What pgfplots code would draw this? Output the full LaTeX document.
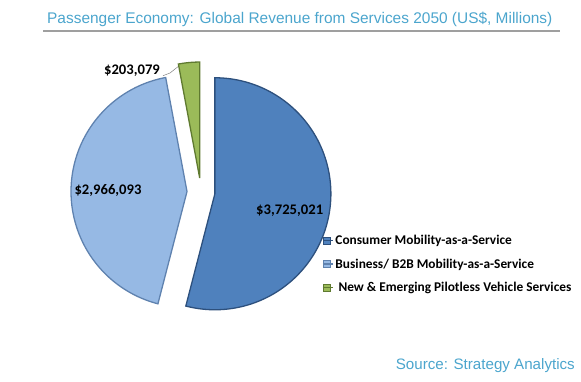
\documentclass[border=0pt]{standalone}
\usepackage{pgfplots}
\pgfplotsset{compat=1.18}
\usepackage{fontspec}
\setmainfont{Liberation Sans}
\newfontfamily\calibri{Carlito}
\definecolor{cblue}{RGB}{79,129,189}
\definecolor{cblueedge}{RGB}{45,80,125}
\definecolor{lblue}{RGB}{150,185,228}
\definecolor{lblueedge}{RGB}{95,130,175}
\definecolor{cgreen}{RGB}{155,187,89}
\definecolor{cgreenedge}{RGB}{95,122,48}
\definecolor{titlecol}{RGB}{75,165,205}
\begin{document}
\begin{tikzpicture}
% values in US$ millions, written in thousands (3,725,021 -> 3725.021)
\pgfmathsetmacro{\vA}{3725.021}
\pgfmathsetmacro{\vB}{2966.093}
\pgfmathsetmacro{\vC}{203.079}
\pgfmathsetmacro{\tot}{\vA+\vB+\vC}
\pgfmathsetmacro{\aA}{360*(\vA/\tot)}
\pgfmathsetmacro{\aB}{360*(\vB/\tot)}
\pgfmathsetmacro{\aC}{360*(\vC/\tot)}
% start/end angles (clockwise from 12 o'clock)
\pgfmathsetmacro{\sA}{90-\aA}\pgfmathsetmacro{\eA}{90}
\pgfmathsetmacro{\sB}{90-\aA-\aB}\pgfmathsetmacro{\eB}{90-\aA}
\pgfmathsetmacro{\sC}{90-\aA-\aB-\aC}\pgfmathsetmacro{\eC}{90-\aA-\aB}
\pgfmathsetmacro{\cx}{201}\pgfmathsetmacro{\cy}{190}
\pgfmathsetmacro{\R}{116}\pgfmathsetmacro{\ex}{14}
\pgfmathsetmacro{\xA}{\cx+\ex*cos((\sA+\eA)/2)}\pgfmathsetmacro{\yA}{\cy+\ex*sin((\sA+\eA)/2)}
\pgfmathsetmacro{\xB}{\cx+\ex*cos((\sB+\eB)/2)}\pgfmathsetmacro{\yB}{\cy+\ex*sin((\sB+\eB)/2)}
\pgfmathsetmacro{\xC}{\cx+\ex*cos((\sC+\eC)/2)}\pgfmathsetmacro{\yC}{\cy+\ex*sin((\sC+\eC)/2)}
\begin{axis}[
  scale only axis, width=581bp, height=382bp,
  xmin=0, xmax=581, ymin=0, ymax=382,
  hide axis, clip=false,
  legend style={draw=none, fill=none, at={(axis cs:322,149)}, anchor=north west,
    font=\calibri\bfseries\fontsize{13.4}{15}\selectfont, row sep=8.6bp,
    legend cell align=left, inner sep=0pt},
  legend image code/.code={\draw[#1, line width=0.5pt] (0bp,-3.5bp) rectangle (7bp,3.5bp); \path (0bp,0bp) -- (10bp,0bp);},
]
\addplot[fill=cblue, draw=cblueedge, line width=1.3pt, domain=\sA:\eA, samples=120, variable=\t]
  ({\xA+\R*cos(t)}, {\yA+\R*sin(t)}) -- (axis cs:\xA,\yA) -- cycle;
\addlegendentry{Consumer Mobility-as-a-Service}
\addplot[fill=lblue, draw=lblueedge, line width=1.3pt, domain=\sB:\eB, samples=120, variable=\t]
  ({\xB+\R*cos(t)}, {\yB+\R*sin(t)}) -- (axis cs:\xB,\yB) -- cycle;
\addlegendentry{Business/ B2B Mobility-as-a-Service}
\addplot[fill=cgreen, draw=cgreenedge, line width=1.3pt, domain=\sC:\eC, samples=20, variable=\t]
  ({\xC+\R*cos(t)}, {\yC+\R*sin(t)}) -- (axis cs:\xC,\yC) -- cycle;
\addlegendentry{\ New \& Emerging Pilotless Vehicle Services}
% data labels
\node[font=\calibri\bfseries\fontsize{14.7}{16}\selectfont] at (axis cs:132,311) {\$203,079};
\draw[gray, line width=0.5pt] (axis cs:163,306.3) -- (axis cs:170,309) -- (axis cs:178,315.3);
\node[font=\calibri\bfseries\fontsize{14.7}{16}\selectfont] at (axis cs:108,191.3) {\$2,966,093};
\node[font=\calibri\bfseries\fontsize{14.7}{16}\selectfont] at (axis cs:289.7,171.3) {\$3,725,021};
% title
\node[font=\fontsize{15.5}{17}\selectfont, text=titlecol, anchor=west, inner sep=0pt] at (axis cs:47,363) {Passenger Economy: Global Revenue from Services 2050 (US\$, Millions)};
\draw[gray!75, line width=1.2pt] (axis cs:43,351) -- (axis cs:560,351);
% source
\node[font=\fontsize{15.2}{17}\selectfont, text=titlecol, anchor=east, inner sep=0pt] at (axis cs:575,16) {Source: Strategy Analytics};
\path (axis cs:0,0) rectangle (axis cs:581,382);
\end{axis}
\end{tikzpicture}
\end{document}
